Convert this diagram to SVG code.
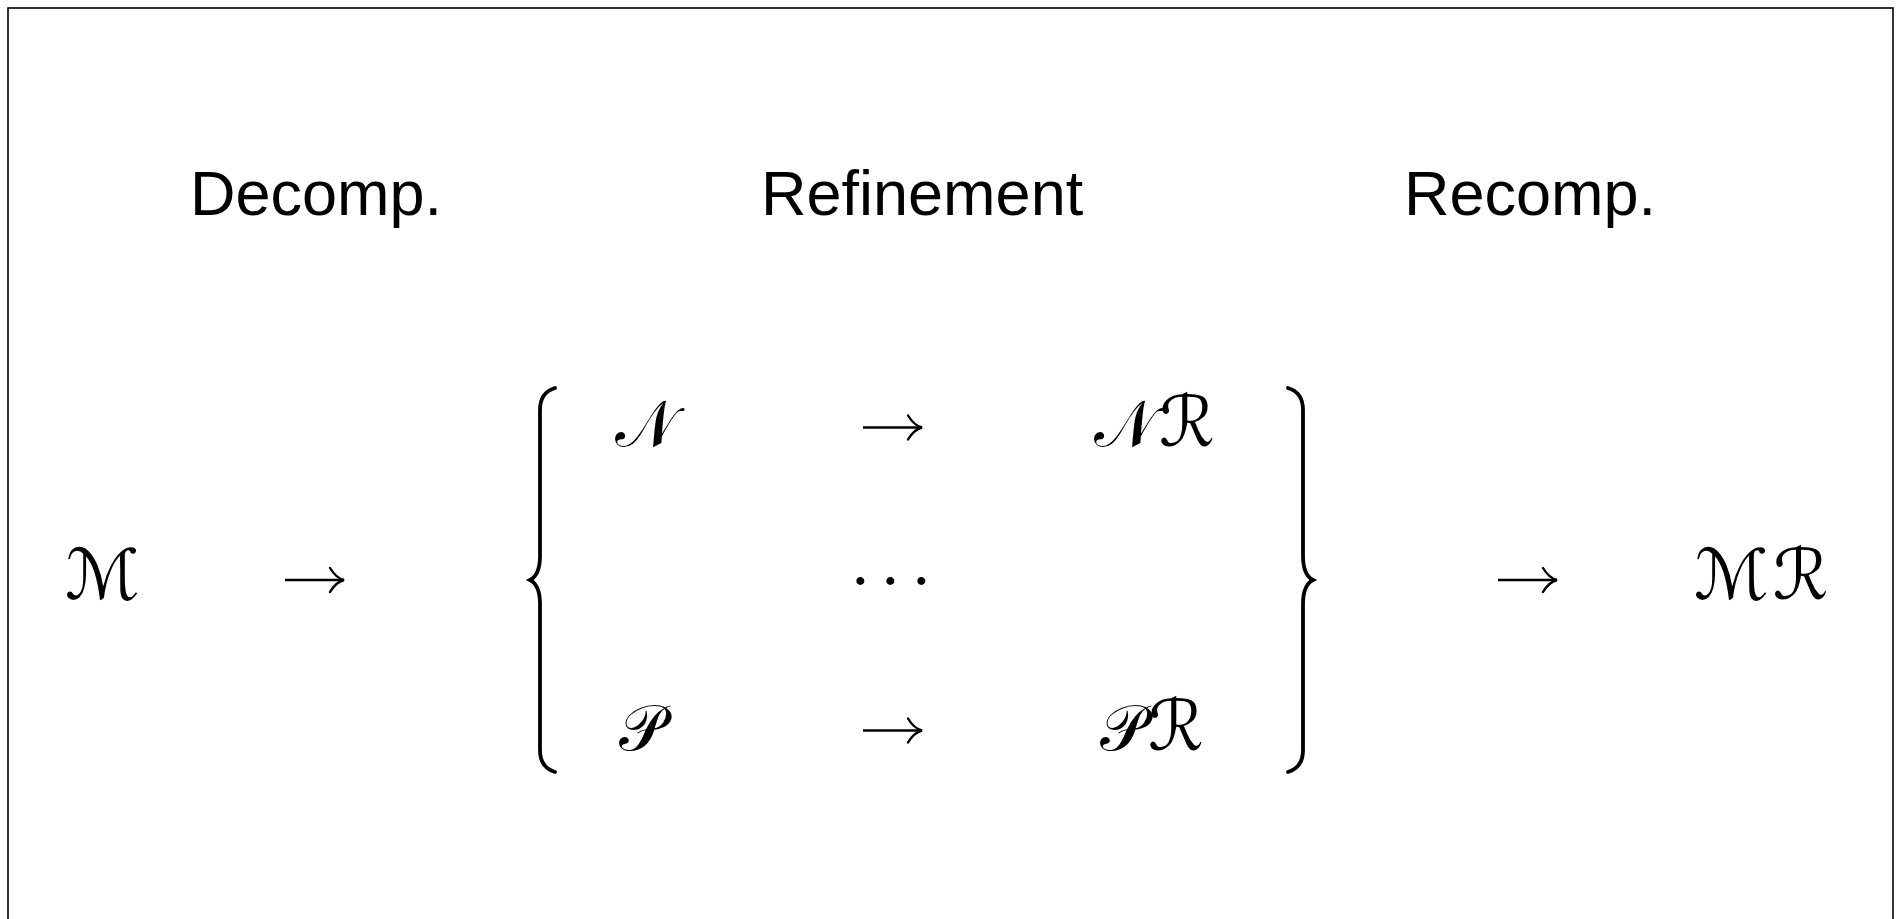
<svg xmlns="http://www.w3.org/2000/svg" width="1899" height="919" viewBox="0 0 1899 919">
  <style>
    .title { font-family: "Liberation Sans", Arial, sans-serif; font-size: 63px; fill: #000; }
    .cal { font-family: "DejaVu Serif", "DejaVu Sans", serif; font-size: 64px; fill: #000; font-style: normal; }
    .wide { font-size: 70px; }
    .dots { font-family: "Liberation Serif", serif; font-size: 68px; fill: #000; }
    .brace { fill: none; stroke: #000; stroke-width: 3.8; stroke-linecap: round; stroke-linejoin: miter; }
    .arrow { fill: none; stroke: #000; stroke-width: 2.6; marker-end: url(#head); }
  </style>
  <defs>
    <marker id="head" markerUnits="userSpaceOnUse" markerWidth="24" markerHeight="30" viewBox="-18 -15 22 30" refX="0" refY="0" orient="auto">
      <path d="M -14,-12 Q -8,-2 0,0 Q -8,2 -14,12" fill="none" stroke="#000" stroke-width="2.4" stroke-linecap="round"/>
    </marker>
  </defs>

  <rect x="8" y="8" width="1885" height="1000" fill="#fff" stroke="#000" stroke-width="1.6"/>

  <!-- column headings -->
  <g id="headings">
    <text class="title" x="190" y="215">Decomp.</text>
    <text class="title" x="761" y="215">Refinement</text>
    <text class="title" x="1404" y="215">Recomp.</text>
  </g>

  <!-- terms -->
  <g id="node-M"><text class="cal wide" x="65" y="599">ℳ</text></g>
  <g id="node-N"><text class="cal" x="615" y="446">𝒩</text></g>
  <g id="node-NR"><text class="cal" x="1094" y="446">𝒩<tspan class="wide" dx="4">ℛ</tspan></text></g>
  <g id="node-dots"><text class="dots" x="849 879 910" y="603">···</text></g>
  <g id="node-P"><text class="cal" x="619" y="750">𝒫</text></g>
  <g id="node-PR"><text class="cal" x="1100" y="750">𝒫<tspan class="wide" dx="2">ℛ</tspan></text></g>
  <g id="node-MR"><text class="cal wide" x="1694" y="599">ℳ<tspan dx="4">ℛ</tspan></text></g>

  <!-- braces around the refinement block -->
  <g id="braces">
    <path class="brace" d="M 555,388 C 545,391 540,398 540,410 L 540,556 C 540,570 536,577 530,580 C 536,583 540,590 540,604 L 540,750 C 540,762 545,769 555,772"/>
    <path class="brace" d="M 1288,388 C 1298,391 1303,398 1303,410 L 1303,556 C 1303,570 1307,577 1313,580 C 1307,583 1303,590 1303,604 L 1303,750 C 1303,762 1298,769 1288,772"/>
  </g>

  <!-- arrows -->
  <g id="connectors">
    <line class="arrow" x1="285" y1="580" x2="344" y2="580"/>
    <line class="arrow" x1="863" y1="427.5" x2="922" y2="427.5"/>
    <line class="arrow" x1="863" y1="730.5" x2="922" y2="730.5"/>
    <line class="arrow" x1="1498" y1="580" x2="1557" y2="580"/>
  </g>
</svg>
